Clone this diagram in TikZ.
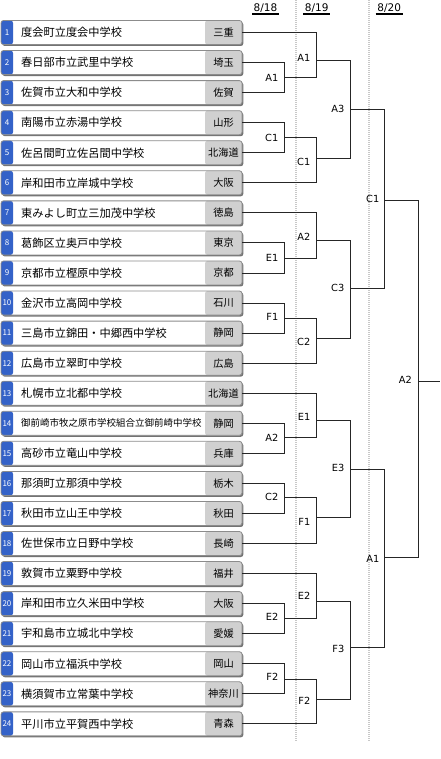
\documentclass[tikz,border=0pt]{standalone}
\usepackage{fontspec}
\setmainfont{Noto Sans CJK JP}
\newfontfamily\latinfont{DejaVu Sans}
\usetikzlibrary{shadows}
\definecolor{numblue}{RGB}{52,98,200}
\definecolor{prefgray}{RGB}{208,208,208}
\definecolor{boxline}{RGB}{140,140,140}
\definecolor{dotgray}{RGB}{200,200,200}
\tikzset{
  team/.style={draw=boxline, fill=white, line width=0.8pt, rounded corners=2.5pt,
    minimum width=241pt, minimum height=24pt, inner sep=0pt,
    general shadow={fill=black!55, shadow xshift=1.3pt, shadow yshift=-1.5pt},
    path picture={
      \fill[numblue] (path picture bounding box.south west) rectangle ([xshift=12pt]path picture bounding box.north west);
      \fill[prefgray] ([xshift=-37pt]path picture bounding box.south east) rectangle (path picture bounding box.north east);
    }},
  num/.style={text=white, font=\fontsize{8}{9}\selectfont, inner sep=0pt},
  school/.style={anchor=west, font=\fontsize{11.2}{12}\selectfont, inner sep=0pt},
  pref/.style={font=\fontsize{10.2}{11}\selectfont, inner sep=0pt},
  lbl/.style={anchor=east, font=\latinfont\fontsize{9.8}{11}\selectfont, inner sep=0pt},
  hdr/.style={anchor=base, font=\latinfont\fontsize{10.5}{12}\selectfont, inner xsep=1.5pt, inner ysep=0pt},
  bk/.style={draw=black!85, line width=0.9pt},
  dotline/.style={draw=dotgray, line width=2pt, dash pattern=on 1pt off 1pt},
}
\begin{document}
\begin{tikzpicture}[x=1pt, y=-1pt]
  \useasboundingbox (0,0) rectangle (440,759);
  % day columns
  \draw[dotline] (296,0) -- (296,742);
  \draw[dotline] (369,0) -- (369,742);
  \node[hdr] (d18) at (265.5,11.5) {8/18};
  \node[hdr] (d19) at (316.7,11.5) {8/19};
  \node[hdr] (d20) at (389.2,11.5) {8/20};
  \foreach \d in {d18,d19,d20}
    \draw[line width=2pt] ([yshift=-2.8pt]\d.base west) -- ([yshift=-2.8pt]\d.base east);

  % teams
  \foreach \i/\nm/\pf in {1/度会町立度会中学校/三重, 2/春日部市立武里中学校/埼玉,
      3/佐賀市立大和中学校/佐賀, 4/南陽市立赤湯中学校/山形,
      5/佐呂間町立佐呂間中学校/北海道, 6/岸和田市立岸城中学校/大阪,
      7/東みよし町立三加茂中学校/徳島, 8/葛飾区立奥戸中学校/東京,
      9/京都市立樫原中学校/京都, 10/金沢市立高岡中学校/石川,
      11/三島市立錦田・中郷西中学校/静岡, 12/広島市立翠町中学校/広島,
      13/札幌市立北都中学校/北海道,
      14/{\fontsize{9.5}{10}\selectfont 御前崎市牧之原市学校組合立御前崎中学校}/静岡,
      15/高砂市立竜山中学校/兵庫, 16/那須町立那須中学校/栃木,
      17/秋田市立山王中学校/秋田, 18/佐世保市立日野中学校/長崎,
      19/敦賀市立粟野中学校/福井, 20/岸和田市立久米田中学校/大阪,
      21/宇和島市立城北中学校/愛媛, 22/岡山市立福浜中学校/岡山,
      23/横須賀市立常葉中学校/神奈川, 24/平川市立平賀西中学校/青森} {
    \pgfmathsetmacro\yy{32.5+30.06*(\i-1)}
    \node[team] (t\i) at (121.5,\yy) {};
    \node[num] (k\i) at (7,\yy) {\i};
    \node[school] (n\i) at (21,\yy) {\nm};
    \node[pref] (p\i) at (223.5,\yy) {\pf};
  }

  % match points
  \coordinate (w1) at (284,77.7);  \coordinate (w2) at (284,137.7);
  \coordinate (w3) at (284,258.3); \coordinate (w4) at (284,318.3);
  \coordinate (w5) at (284,437.7); \coordinate (w6) at (284,497.3);
  \coordinate (w7) at (284,618.3); \coordinate (w8) at (284,679);
  \coordinate (v1) at (316,60.7);  \coordinate (v2) at (316,158.3);
  \coordinate (v3) at (316,240.7); \coordinate (v4) at (316,338.3);
  \coordinate (v5) at (316,420);   \coordinate (v6) at (316,517.3);
  \coordinate (v7) at (316,601.7); \coordinate (v8) at (316,699.3);
  \coordinate (u1) at (350,109);   \coordinate (u2) at (350,288.3);
  \coordinate (u3) at (350,469);   \coordinate (u4) at (350,647.3);
  \coordinate (s1) at (384,200.7); \coordinate (s2) at (384,557.3);
  \coordinate (f) at (418,381.7);
  \coordinate (champ) at (440,381.7);

  % 8/18
  \draw[bk] (t2.east) -| (w1 |- t3.east) -- (t3.east);
  \draw[bk] (t4.east) -| (w2 |- t5.east) -- (t5.east);
  \draw[bk] (t8.east) -| (w3 |- t9.east) -- (t9.east);
  \draw[bk] (t10.east) -| (w4 |- t11.east) -- (t11.east);
  \draw[bk] (t14.east) -| (w5 |- t15.east) -- (t15.east);
  \draw[bk] (t16.east) -| (w6 |- t17.east) -- (t17.east);
  \draw[bk] (t20.east) -| (w7 |- t21.east) -- (t21.east);
  \draw[bk] (t22.east) -| (w8 |- t23.east) -- (t23.east);
  % second round
  \draw[bk] (t1.east) -| (v1 |- w1) -- (w1);
  \draw[bk] (w2) -| (v2 |- t6.east) -- (t6.east);
  \draw[bk] (t7.east) -| (v3 |- w3) -- (w3);
  \draw[bk] (w4) -| (v4 |- t12.east) -- (t12.east);
  \draw[bk] (t13.east) -| (v5 |- w5) -- (w5);
  \draw[bk] (w6) -| (v6 |- t18.east) -- (t18.east);
  \draw[bk] (t19.east) -| (v7 |- w7) -- (w7);
  \draw[bk] (w8) -| (v8 |- t24.east) -- (t24.east);
  % 8/19
  \draw[bk] (v1) -| (u1 |- v2) -- (v2);
  \draw[bk] (v3) -| (u2 |- v4) -- (v4);
  \draw[bk] (v5) -| (u3 |- v6) -- (v6);
  \draw[bk] (v7) -| (u4 |- v8) -- (v8);
  % 8/20
  \draw[bk] (u1) -| (s1 |- u2) -- (u2);
  \draw[bk] (u3) -| (s2 |- u4) -- (u4);
  \draw[bk] (s1) -| (f |- s2) -- (s2);
  \draw[bk] (f) -- (champ);

  % court labels
  \foreach \nm/\x/\y/\c in {lw1/278.5/77.7/A1, lw2/278.5/137.7/C1, lw3/278.5/258.3/E1,
      lw4/278.5/317.3/F1, lw5/278.5/437.7/A2, lw6/278.5/497.3/C2,
      lw7/278.5/617.3/E2, lw8/278.5/677.3/F2,
      lv1/310.5/57.7/A1, lv2/310.5/162.3/C1, lv3/310.5/237.3/A2, lv4/310.5/341.7/C2,
      lv5/310.5/416.7/E1, lv6/310.5/521.7/F1, lv7/310.5/596/E2, lv8/310.5/700.7/F2,
      lu1/344.5/109/A3, lu2/344.5/288.3/C3, lu3/344.5/468.3/E3, lu4/344.5/649/F3,
      ls1/379.5/199.3/C1, ls2/379.5/559/A1, lf/412/380/A2}
    \node[lbl] (\nm) at (\x,\y) {\c};
\end{tikzpicture}
\end{document}
